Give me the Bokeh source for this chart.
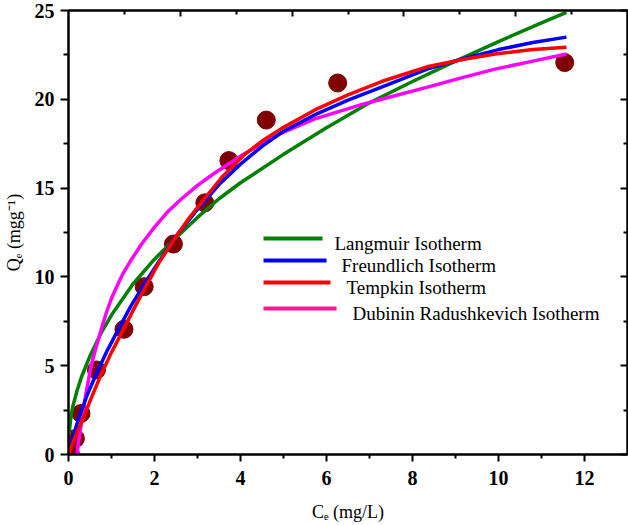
from bokeh.plotting import figure
from bokeh.models import Range1d, LinearAxis, FixedTicker, Label, BoxAnnotation
from bokeh.embed import file_html
from bokeh.resources import INLINE

# experimental points
ce_points = [0.04, 0.16, 0.29, 0.65, 1.29, 1.76, 2.44, 3.17, 3.73, 4.60, 6.26, 11.54]
qe_points = [0.07, 0.90, 2.31, 4.76, 7.05, 9.45, 11.85, 14.17, 16.55, 18.83, 20.92, 22.07]

# fitted curves
lang_c = [0.01, 0.05, 0.1, 0.2, 0.3, 0.5, 0.75, 1.0, 1.5, 2.0, 2.5, 3.0, 3.5, 4.0, 5.0, 6.0, 7.0, 8.0, 9.0, 10.0, 11.0, 11.58]
lang_q = [1.1, 2.0, 2.7, 3.6, 4.35, 5.55, 6.8, 7.85, 9.6, 11.0, 12.2, 13.35, 14.4, 15.3, 16.9, 18.4, 19.8, 21.0, 22.15, 23.25, 24.3, 24.9]

freu_c = [0, 0.1, 0.2, 0.3, 0.45, 0.66, 0.9, 1.15, 1.45, 1.79, 2.1, 2.5, 3.0, 3.5, 4.0, 4.5, 5.0, 5.75, 6.5, 7.4, 8.4, 9.2, 10.0, 10.8, 11.58]
freu_q = [0, 0.95, 1.75, 2.45, 3.45, 4.6, 5.85, 7.0, 8.35, 9.7, 10.85, 12.3, 13.8, 15.2, 16.35, 17.35, 18.2, 19.15, 19.95, 20.8, 21.75, 22.3, 22.8, 23.2, 23.5]

temk_c = [0, 0.15, 0.35, 0.55, 0.74, 1.0, 1.29, 1.5, 1.74, 2.09, 2.44, 2.8, 3.16, 3.6, 4.1, 4.5, 4.95, 5.73, 6.5, 7.28, 8.37, 9.2, 9.92, 10.8, 11.58]
temk_q = [0, 0.95, 2.1, 3.3, 4.4, 5.75, 7.1, 8.1, 9.2, 10.75, 12.05, 13.3, 14.4, 15.7, 16.9, 17.65, 18.35, 19.4, 20.25, 21.0, 21.85, 22.25, 22.55, 22.8, 22.93]

dr_c = [0.2, 0.25, 0.31, 0.37, 0.43, 0.53, 0.66, 0.78, 0.89, 1.0, 1.12, 1.27, 1.43, 1.7, 2.0, 2.3, 2.63, 3.0, 3.4, 4.1, 4.95, 5.73, 6.81, 7.28, 8.37, 9.2, 9.92, 10.8, 11.58]
dr_q = [0.0, 1.0, 1.9, 2.9, 3.76, 5.05, 6.2, 7.2, 8.05, 8.8, 9.45, 10.2, 10.85, 11.85, 12.8, 13.65, 14.4, 15.15, 15.85, 16.95, 18.1, 18.9, 19.7, 20.0, 20.7, 21.25, 21.7, 22.15, 22.55]

x_major = [0, 2, 4, 6, 8, 10, 12]
x_minor = [1, 3, 5, 7, 9, 11]
y_major = [0, 5, 10, 15, 20, 25]
y_minor = [2.5, 7.5, 12.5, 17.5, 22.5]
top_major = [2.6, 5.2, 7.8, 10.4]
top_minor = [1.3, 3.9, 6.5, 9.1, 11.7]

x_title = "C\u2091 (mg/L)"
y_title = "Q\u2091 (mgg\u207b\u00b9)"

legend_names = ["Langmuir Isotherm", "Freundlich Isotherm", "Tempkin  Isotherm", "Dubinin Radushkevich Isotherm"]
legend_colors = ["#008000", "#0000ff", "#ff0000", "#ff1a8c"]

W, H = 628, 525
FL, FB = 67, 454          # frame left / bottom on the page
SERIF = "Liberation Serif"

p = figure(width=W, height=H, output_backend="svg", toolbar_location=None,
           x_range=Range1d(0, 13), y_range=Range1d(0, 25),
           min_border_left=FL, min_border_right=1, min_border_top=10, min_border_bottom=H - FB)
p.xgrid.visible = False
p.ygrid.visible = False
p.outline_line_color = "black"
p.outline_line_width = 2
p.background_fill_color = "white"
p.border_fill_color = "white"

def style_axis(ax, ticks, minor, out_major, out_minor, in_major, in_minor, labels=True):
    ax.ticker = FixedTicker(ticks=ticks, minor_ticks=minor)
    ax.axis_line_width = 2
    ax.major_tick_line_width = 2
    ax.minor_tick_line_width = 2
    ax.major_tick_out = out_major
    ax.major_tick_in = in_major
    ax.minor_tick_out = out_minor
    ax.minor_tick_in = in_minor
    ax.axis_label = None
    if labels:
        ax.major_label_text_font = SERIF
        ax.major_label_text_font_style = "bold"
        ax.major_label_text_font_size = "20px"
        ax.major_label_text_color = "black"
        ax.axis_label_text_font = SERIF
        ax.axis_label_text_font_style = "normal"
        ax.axis_label_text_font_size = "18px"
        ax.axis_label_text_color = "black"
    else:
        ax.major_label_overrides = {t: "" for t in ticks}
        ax.major_label_standoff = 0

style_axis(p.xaxis[0], x_major, x_minor, 7, 4, 0, 0)
p.xaxis[0].major_label_standoff = 9
p.xaxis[0].axis_label = x_title
p.xaxis[0].axis_label_standoff = 14
style_axis(p.yaxis[0], y_major, y_minor, 8, 5, 0, 0)
p.yaxis[0].major_label_standoff = 6
p.yaxis[0].axis_label = y_title
p.yaxis[0].axis_label_standoff = 8

top = LinearAxis()
style_axis(top, top_major, top_minor, 0, 0, 6, 4, labels=False)
p.add_layout(top, "above")
right = LinearAxis()
style_axis(right, y_major, y_minor, 0, 0, 7, 4, labels=False)
p.add_layout(right, "right")

# data
p.scatter(ce_points, qe_points, size=18, color="#800000", line_color="#800000")
p.line(lang_c, lang_q, line_color="#008000", line_width=3.5)
p.line(dr_c, dr_q, line_color="#ff00ff", line_width=3.5)
p.line(freu_c, freu_q, line_color="#0000ff", line_width=3.5)
p.line(temk_c, temk_q, line_color="#ff0000", line_width=3.5)

# page pixel coords -> screen units (origin at the frame's bottom-left)
def sx(x):
    return x - FL
def sy(y):
    return FB - y

# legend
leg_y = [238, 260, 282, 308]
leg_x1 = [321, 325, 329, 335]
leg_tx = [333, 340, 345, 351]
for name, col, yy, x1, tx in zip(legend_names, legend_colors, leg_y, leg_x1, leg_tx):
    p.add_layout(BoxAnnotation(left=sx(262), right=sx(x1), top=sy(yy - 2), bottom=sy(yy + 2),
                               left_units="screen", right_units="screen",
                               top_units="screen", bottom_units="screen",
                               fill_color=col, fill_alpha=1.0, line_color=None, level="overlay"))
    p.add_layout(Label(x=sx(tx), y=sy(yy + 5), x_units="screen", y_units="screen", text=name,
                       text_font=SERIF, text_font_size="19px", text_color="black",
                       text_baseline="alphabetic", text_align="left"))

open("out.html", "w").write(file_html(p, INLINE))
